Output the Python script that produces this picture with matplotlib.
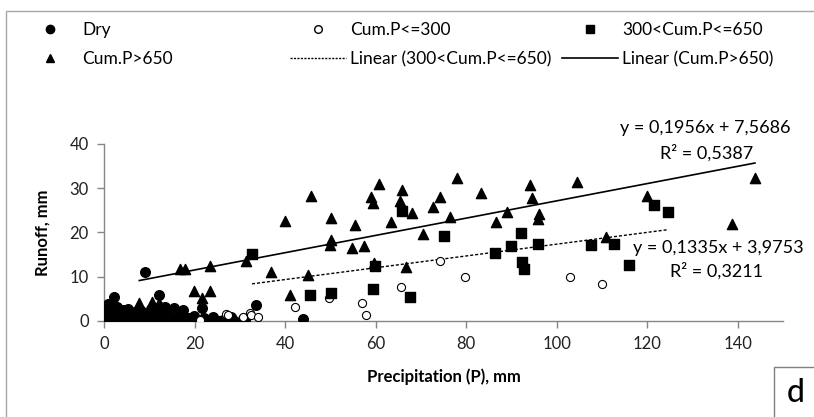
import matplotlib
matplotlib.use("Agg")
import matplotlib.pyplot as plt
from matplotlib.lines import Line2D
from matplotlib.patches import Rectangle

plt.rcParams['font.family'] = ['Lato', 'DejaVu Sans']

W, H = 814, 417

# dry events (filled circles)
dry_x = [0.2, 0.4, 0.5, 0.6, 0.8, 1.0, 1.2, 1.5, 1.8, 2.0, 2.2, 2.3, 2.6, 2.9, 3.0, 3.4,
         3.8, 4.2, 4.5, 5.0, 5.4, 5.8, 6.3, 6.8, 7.2, 7.6, 8.2, 8.6, 9.1, 9.3, 9.8, 10.3,
         10.8, 11.3, 11.8, 12.2, 12.4, 12.8, 13.3, 13.5, 13.8, 14.0, 14.3, 15.0, 15.5, 16.2,
         16.8, 17.0, 17.5, 18.5, 19.3, 19.8, 20.3, 21.6, 22.0, 22.8, 23.7, 24.0, 24.6, 25.4,
         26.3, 28.1, 28.6, 30.6, 31.2, 33.6, 43.9]
dry_y = [0.2, 1.0, 2.0, 3.0, 3.8, 0.5, 1.5, 2.6, 3.6, 0.1, 1.2, 5.4, 2.2, 3.2, 0.6, 1.6,
         0.2, 2.4, 1.0, 0.3, 2.6, 1.4, 0.5, 2.0, 0.1, 1.1, 2.3, 0.4, 11.1, 1.6, 0.2, 2.6,
         0.9, 1.8, 0.3, 5.8, 3.2, 1.2, 0.2, 3.2, 2.1, 1.3, 0.8, 0.1, 2.8, 0.6,
         1.4, 0.2, 2.4, 0.5, 0.1, 1.0, 0.4, 2.9, 0.7, 0.1, 0.0, 0.8, 0.1, 0.0,
         0.2, 0.8, 0.2, 0.4, 0.1, 3.6, 0.3]

# Cum.P<=300 (open circles)
low_x = [21.2, 26.9, 27.5, 30.6, 32.3, 32.4, 34.1, 42.3, 49.8, 57.0, 57.9, 65.6, 74.3, 79.7, 102.9, 110.0]
low_y = [0.1, 1.5, 1.3, 0.9, 1.8, 1.2, 0.8, 3.1, 5.2, 3.9, 1.2, 7.6, 13.6, 10.0, 10.0, 8.2]

# 300<Cum.P<=650 (squares)
mid_x = [32.7, 45.6, 50.1, 59.4, 59.9, 65.9, 67.6, 75.1, 86.3, 90.0, 92.2, 92.4, 92.8, 95.8,
         107.5, 112.7, 115.9, 121.5, 124.7]
mid_y = [15.1, 5.8, 6.2, 7.1, 12.4, 24.8, 5.4, 19.2, 15.4, 17.0, 19.9, 13.3, 11.6, 17.3,
         17.1, 17.3, 12.6, 26.2, 24.6]

# Cum.P>650 (triangles)
high_x = [7.8, 10.7, 12.2, 16.8, 17.8, 19.9, 21.6, 23.5, 23.5, 31.4, 36.9, 39.9, 41.0, 45.0,
          45.7, 50.2, 50.2, 50.0, 54.8, 55.5, 57.4, 59.0, 59.4, 59.6, 60.7, 63.3, 65.3, 65.9,
          66.7, 68.1, 70.5, 72.7, 74.3, 76.4, 78.0, 83.2, 86.7, 89.1, 94.2, 94.6, 95.8, 96.2,
          104.4, 110.8, 120.0, 138.7, 143.8]
high_y = [4.1, 4.3, 4.0, 11.6, 11.6, 6.8, 5.2, 12.4, 6.7, 13.5, 11.1, 22.6, 5.8, 10.4,
          28.3, 23.2, 18.3, 17.1, 16.4, 21.7, 16.9, 27.9, 26.6, 13.0, 31.0, 22.3, 27.1, 29.6,
          12.2, 24.3, 19.6, 25.7, 28.1, 23.4, 32.2, 28.9, 22.3, 24.7, 30.7, 27.7, 23.0, 24.2,
          31.5, 18.9, 28.2, 21.8, 32.4]

# trendline coefficients as printed on the chart
mid_fit = (0.1335, 3.9753, 0.3211)
high_fit = (0.1956, 7.5686, 0.5387)

x_ticks = [0, 20, 40, 60, 80, 100, 120, 140]
y_ticks = [0, 10, 20, 30, 40]

grey = '#868686'

fig = plt.figure(figsize=(W / 100, H / 100), dpi=100)
ax = fig.add_axes([104 / W, 1 - 320.7 / H, (783 - 104) / W, (320.7 - 144) / H])

ax.scatter(dry_x, dry_y, s=48, marker='o', color='black', zorder=3)
ax.scatter(low_x, low_y, s=34, marker='o', facecolor='white', edgecolor='black', linewidth=0.8, zorder=3)
ax.scatter(mid_x, mid_y, s=42, marker='s', color='black', zorder=3)
ax.scatter(high_x, high_y, s=54, marker='^', color='black', zorder=3)

# trendlines over each series' range
def trend(xs, fit):
    x0, x1 = min(xs), max(xs)
    return [x0, x1], [fit[0] * x0 + fit[1], fit[0] * x1 + fit[1]]

tx, ty = trend(mid_x, mid_fit)
ax.plot(tx, ty, color='black', lw=1.0, linestyle=(0, (2.2, 1.4)), zorder=2)
tx, ty = trend(high_x, high_fit)
ax.plot(tx, ty, color='black', lw=1.2, zorder=2)

ax.set_xlim(0, 150)
ax.set_ylim(0, 40)
ax.set_xticks(x_ticks)
ax.set_yticks(y_ticks)
for s in ['top', 'right']:
    ax.spines[s].set_visible(False)
for s in ['left', 'bottom']:
    ax.spines[s].set_color(grey)
    ax.spines[s].set_linewidth(1.0)
ax.tick_params(direction='out', length=5, width=1.0, color=grey, labelsize=12,
               labelcolor='#222222', pad=6)
ax.set_xlabel('Precipitation (P), mm', fontsize=12, fontweight='bold', labelpad=12)
ax.set_ylabel('Runoff, mm', fontsize=12, fontweight='bold', labelpad=14)

def eq_text(fit):
    a = ('%.4f' % fit[0]).replace('.', ',')
    b = ('%.4f' % fit[1]).replace('.', ',')
    r = ('%.4f' % fit[2]).replace('.', ',')
    return 'y = %sx + %s' % (a, b), 'R\u00b2 = %s' % r

e1, r1 = eq_text(high_fit)
fig.text(705 / W, 1 - 128 / H, e1, ha='center', va='center', fontsize=13)
fig.text(707 / W, 1 - 152.7 / H, r1, ha='center', va='center', fontsize=13)
e2, r2 = eq_text(mid_fit)
fig.text(718 / W, 1 - 248 / H, e2, ha='center', va='center', fontsize=13)
fig.text(717 / W, 1 - 271 / H, r2, ha='center', va='center', fontsize=13)

# legend, three columns
h_dry = Line2D([], [], marker='o', color='black', linestyle='none', markersize=6)
h_low = Line2D([], [], marker='o', markerfacecolor='white', markeredgecolor='black',
               linestyle='none', markersize=5.5)
h_mid = Line2D([], [], marker='s', color='black', linestyle='none', markersize=6)
h_high = Line2D([], [], marker='^', color='black', linestyle='none', markersize=6)
h_lmid = Line2D([], [], color='black', lw=1.0, linestyle=(0, (1.5, 1.0)))
h_lhigh = Line2D([], [], color='black', lw=1.2)

cols = [
    ([h_dry, h_high], ['Dry', 'Cum.P>650'], 22),
    ([h_low, h_lmid], ['Cum.P<=300', 'Linear (300<Cum.P<=650)'], 290),
    ([h_mid, h_lhigh], ['300<Cum.P<=650', 'Linear (Cum.P>650)'], 562),
]
for handles, labels, x0 in cols:
    fig.legend(handles, labels, loc='upper left', bbox_to_anchor=(x0 / W, 1 - 22 / H),
               frameon=False, borderpad=0, borderaxespad=0, fontsize=12.5,
               handlelength=3.2, handletextpad=0.25, labelspacing=0.75)

# outer frame and panel letter box
fig.add_artist(Rectangle((5.5 / W, -0.1), 2, 1.1 - 10.7 / H, transform=fig.transFigure,
                         fill=False, edgecolor='#a6a6a6', lw=1.0, clip_on=False))
fig.add_artist(Rectangle((774 / W, -0.1), 1, 0.1 + 1 - 367 / H, transform=fig.transFigure,
                         fill=False, edgecolor='#808080', lw=1.0, clip_on=False))
fig.text(796 / W, 1 - 393 / H, 'd', ha='center', va='center', fontsize=23, fontweight='medium')

fig.savefig('out.png', dpi=100)
